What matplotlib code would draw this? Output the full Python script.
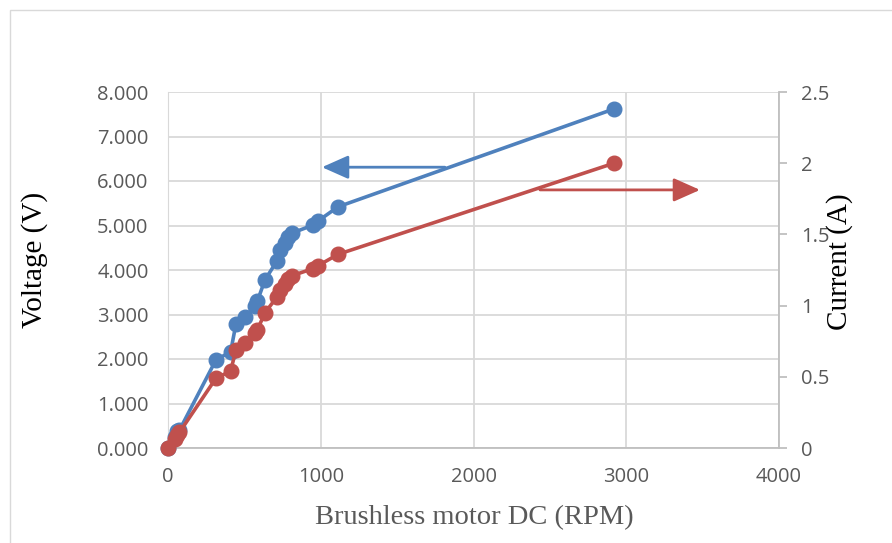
import matplotlib.pyplot as plt
from matplotlib.patches import Rectangle

# data
rpm = [0, 45, 60, 75, 314, 410, 445, 504, 570, 585, 635, 713, 733, 766, 785, 812,
       950, 982, 1113, 2920]
voltage = [0, 0.25, 0.38, 0.40, 1.98, 2.16, 2.79, 2.94, 3.19, 3.30, 3.78, 4.20, 4.45,
           4.60, 4.74, 4.83, 5.01, 5.10, 5.42, 7.62]
current = [0, 0.06, 0.09, 0.11, 0.49, 0.54, 0.69, 0.74, 0.81, 0.83, 0.95, 1.06, 1.11,
           1.15, 1.19, 1.21, 1.26, 1.28, 1.36, 2.00]

x_ticks = [0, 1000, 2000, 3000, 4000]
v_ticks = [0, 1, 2, 3, 4, 5, 6, 7, 8]
a_ticks = [0, 0.5, 1, 1.5, 2, 2.5]

blue = '#4f81bd'
red = '#c0504d'
grid = '#d9d9d9'
tick_col = '#595959'

fig = plt.figure(figsize=(8.92, 5.43), dpi=100)
fig.patches.append(Rectangle((10 / 892, -0.1), 1.1, (543 - 10) / 543 + 0.1,
                             transform=fig.transFigure, fill=False,
                             edgecolor='#d9d9d9', linewidth=1))

ax = fig.add_axes([168 / 892, 1 - 448 / 543, (779 - 168) / 892, (448 - 92) / 543])
ax2 = ax.twinx()

ax.plot(rpm, voltage, color=blue, lw=2.6, marker='o', ms=10.5, zorder=3, clip_on=False)
ax2.plot(rpm, current, color=red, lw=2.6, marker='o', ms=10.5, zorder=3, clip_on=False)

ax.set_xlim(0, 4000)
ax.set_ylim(0, 8)
ax2.set_ylim(0, 2.5)
ax.set_xticks(x_ticks)
ax.set_yticks(v_ticks)
ax.set_yticklabels(['%.3f' % v for v in v_ticks])
ax2.set_yticks(a_ticks)
ax2.set_yticklabels(['0', '0.5', '1', '1.5', '2', '2.5'])

ax.grid(True, color=grid, lw=1.3)
ax.set_axisbelow(True)
for a in (ax, ax2):
    for s in a.spines.values():
        s.set_visible(False)
    a.tick_params(colors=tick_col, labelsize=14.5)
    for lab in a.get_xticklabels() + a.get_yticklabels():
        lab.set_family('Open Sans')
ax.spines['bottom'].set_visible(True)
ax.spines['bottom'].set_color('#bfbfbf')
ax.spines['bottom'].set_linewidth(1.3)
ax.spines['left'].set_visible(True)
ax.spines['left'].set_color('#d9d9d9')
ax2.spines['right'].set_visible(True)
ax2.spines['right'].set_color('#bfbfbf')
ax2.spines['right'].set_linewidth(1.3)
ax.tick_params(axis='y', length=0, pad=14)
ax.tick_params(axis='x', length=0, pad=14)
ax2.tick_params(axis='y', length=6, width=1.3, color='#bfbfbf', pad=10)

ax.annotate('', xy=(1008, 6.31), xytext=(1813, 6.31),
            arrowprops=dict(arrowstyle='-|>,head_length=0.9,head_width=0.4', color=blue,
                            lw=2, mutation_scale=18, shrinkA=0, shrinkB=0))
ax.annotate('', xy=(3483, 5.8), xytext=(2435, 5.8),
            arrowprops=dict(arrowstyle='-|>,head_length=0.9,head_width=0.4', color=red,
                            lw=2, mutation_scale=18, shrinkA=0, shrinkB=0))

serif = 'Liberation Serif'
fig.text(35 / 892, 1 - 260 / 543, 'Voltage (V)', rotation=90, ha='center', va='center',
         fontsize=21, family=serif)
fig.text(840 / 892, 1 - 262 / 543, 'Current (A)', rotation=90, ha='center', va='center',
         fontsize=21, family=serif)
fig.text(474 / 892, 1 - 518 / 543, 'Brushless motor DC (RPM)', ha='center', va='center',
         fontsize=20.5, family=serif, color='#595959')

fig.savefig('out.png', dpi=100)
